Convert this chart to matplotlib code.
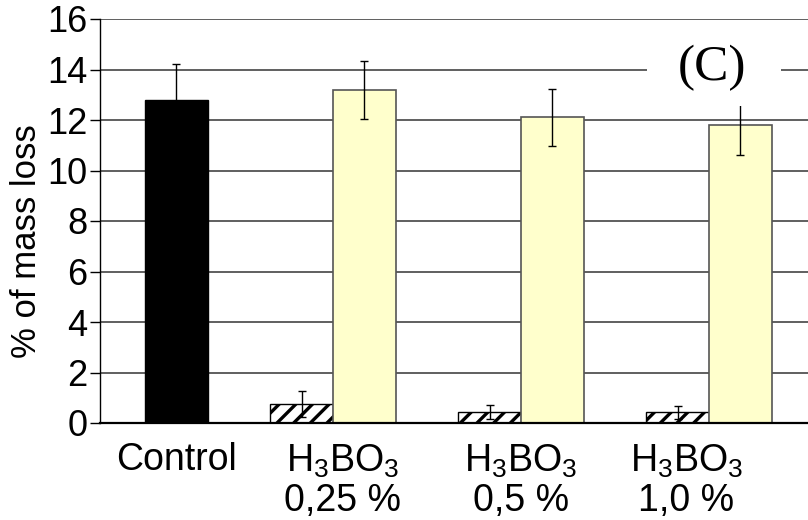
import matplotlib
matplotlib.use('agg')
import matplotlib.pyplot as plt
import matplotlib.patches as mpatch

plt.rcParams['font.family'] = ['Liberation Sans', 'DejaVu Sans']
plt.rcParams['mathtext.fontset'] = 'custom'
plt.rcParams['mathtext.rm'] = 'Liberation Sans'
plt.rcParams['mathtext.default'] = 'regular'
plt.rcParams['hatch.linewidth'] = 2.4

# data
categories = ['Control', 'H$_3$BO$_3$\n0,25 %', 'H$_3$BO$_3$\n0,5 %', 'H$_3$BO$_3$\n1,0 %']
control_val = [12.8]
control_err = [1.42]
treated_groups = [1, 2, 3]
hatched_vals = [0.75, 0.44, 0.42]
hatched_err = [0.5, 0.28, 0.25]
yellow_vals = [13.2, 12.1, 11.8]
yellow_err = [1.15, 1.12, 1.2]
label_pos = [0.167, 1.05, 2.0, 2.88]
yticks = list(range(0, 17, 2))

W = 0.333
YELLOW = '#FFFFCC'

fig = plt.figure(figsize=(8.08, 5.2), dpi=100)
ax = fig.add_axes([100 / 808, 1 - 423 / 520, 708 / 808, 404 / 520])

errkw = dict(ecolor='black', elinewidth=1.0, capsize=3, capthick=1.0)

ax.bar([0 + W / 2], control_val, W, yerr=control_err, color='black',
       edgecolor='black', zorder=3, error_kw=errkw)
ax.bar([g - W / 2 for g in treated_groups], hatched_vals, W, yerr=hatched_err,
       color='white', edgecolor='black', hatch='//', linewidth=1.0, zorder=3,
       error_kw=errkw)
ax.bar([g + W / 2 for g in treated_groups], yellow_vals, W, yerr=yellow_err,
       color=YELLOW, edgecolor='#555555', linewidth=1.2, zorder=3, error_kw=errkw)

ax.set_xlim(-0.24, (808 - 145) / 188)
ax.set_ylim(0, 16)
ax.set_yticks(yticks)
ax.set_yticklabels([str(t) for t in yticks], fontsize=26)
ax.yaxis.grid(True, color='#444444', linewidth=1.2, zorder=0)
ax.set_axisbelow(True)
ax.tick_params(axis='y', length=7, width=1.0, direction='out', pad=2)

ax.set_xticks(label_pos)
ax.set_xticklabels(categories, fontsize=27, linespacing=1.12)
ax.tick_params(axis='x', length=0, pad=14)

ax.set_ylabel('% of mass loss', fontsize=25)
ax.yaxis.set_label_coords(-0.08, 0.45)

for s in ['top', 'right']:
    ax.spines[s].set_visible(False)
ax.spines['left'].set_linewidth(1.0)
ax.spines['bottom'].set_linewidth(1.6)
ax.spines['bottom'].set_zorder(4)

# white panel behind the "(C)" tag
ax.add_patch(mpatch.Rectangle((547 / 708, (423 - 106) / 404), 134 / 708, 76 / 404,
                              transform=ax.transAxes, facecolor='white',
                              edgecolor='none', zorder=5))
ax.text(612 / 708, (423 - 68) / 404, '(C)', transform=ax.transAxes,
        ha='center', va='center', fontsize=37, family='Liberation Serif', zorder=6)

fig.savefig('out.png', dpi=100)
